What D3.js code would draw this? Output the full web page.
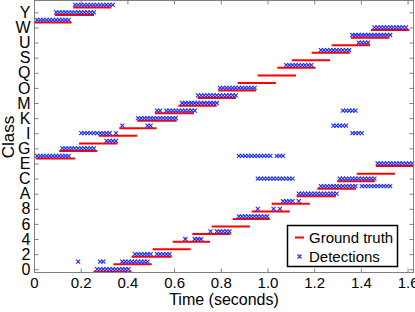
<!DOCTYPE html>
<html><head><meta charset="utf-8">
<script src="https://cdn.jsdelivr.net/npm/d3@7"></script>
<style>
html,body{margin:0;padding:0;background:#fff;}
svg{display:block;font-family:"Liberation Sans",Arial,sans-serif;}
</style></head>
<body>
<svg id="chart" width="415" height="312"></svg>
<script>
// ---- data ----
const classes = "0123456789ABCDEFGHIJKLMNOPQRSTUVWXYZ".split("");
const yTickLabels = ["0","2","4","6","8","A","C","E","G","I","K","M","O","Q","S","U","W","Y"];
const xTickValues = [0,0.2,0.4,0.6,0.8,1.0,1.2,1.4,1.6];
const xTickLabels = ["0","0.2","0.4","0.6","0.8","1.0","1.2","1.4","1.6"];
// ground truth intervals: [class, start (s), end (s)]
const groundTruth = [
  ["X",0.001,0.161],["F",0.009,0.176],["Y",0.090,0.257],["G",0.108,0.271],
  ["Z",0.168,0.330],["H",0.193,0.357],["0",0.254,0.418],["I",0.278,0.442],
  ["1",0.340,0.504],["J",0.365,0.525],["2",0.418,0.590],["K",0.442,0.611],
  ["3",0.508,0.671],["L",0.518,0.685],["4",0.594,0.754],["M",0.618,0.782],
  ["5",0.678,0.842],["N",0.701,0.865],["6",0.761,0.925],["O",0.789,0.951],
  ["7",0.851,1.010],["P",0.872,1.036],["8",0.932,1.096],["Q",0.958,1.122],
  ["9",1.018,1.182],["R",1.042,1.206],["S",1.104,1.268],["A",1.125,1.293],
  ["T",1.189,1.353],["B",1.213,1.379],["U",1.275,1.439],["C",1.299,1.460],
  ["V",1.358,1.522],["D",1.382,1.546],["W",1.443,1.607],["E",1.465,1.627]
];
// detections: [class, first frame, last frame]
const frameSeconds = 0.0135;
const detections = [
  ["0",20,30],
  ["1",14,14],["1",21,22],["1",28,36],
  ["2",32,37],["2",39,43],
  ["4",48,48],["4",51,53],
  ["5",56,56],["5",58,62],
  ["7",65,66],["7",67,74],
  ["8",71,71],["8",76,76],["8",78,78],
  ["9",79,82],["9",84,84],
  ["A",84,96],
  ["B",91,102],["B",104,113],
  ["C",71,82],["C",97,108],
  ["E",109,120],
  ["F",1,11],["F",65,75],["F",77,79],
  ["G",9,19],
  ["H",23,26],
  ["I",15,23],["I",24,24],["I",26,26],["I",101,104],
  ["J",28,28],["J",36,37],["J",95,99],
  ["K",33,45],
  ["L",39,40],["L",42,51],["L",98,102],
  ["M",47,58],
  ["N",52,64],
  ["O",59,70],
  ["R",80,88],
  ["T",91,100],
  ["U",103,106],
  ["V",101,113],
  ["W",108,118],
  ["X",1,11],
  ["Y",7,19],
  ["Z",13,25]
];
const legendLabels = ["Ground truth","Detections"];

// ---- layout ----
const mLeft = 34, mRight = 414, mTop = 1, mBottom = 273;
const svg = d3.select("#chart");
const idx = c => classes.indexOf(c);
const x = d3.scaleLinear().domain([0, 1.6275]).range([mLeft, mRight]);
const y = d3.scaleLinear().domain([-0.5, classes.length - 0.5]).range([mBottom, mTop]);
const gtOffset = 0.35;
const axisColor = "#808080";

// ground truth lines
svg.append("g").selectAll("line").data(groundTruth).join("line")
  .attr("x1", d => x(d[1])).attr("x2", d => x(d[2]))
  .attr("y1", d => y(idx(d[0]) - gtOffset)).attr("y2", d => y(idx(d[0]) - gtOffset))
  .attr("stroke", "#ff0000").attr("stroke-width", 2);

// detection markers
const pts = [];
detections.forEach(([c, f0, f1]) => { for (let f = f0; f <= f1; f++) pts.push([c, f * frameSeconds]); });
const ms = 2;
const xMark = (px, py) => `M${px-ms},${py-ms}L${px+ms},${py+ms}M${px-ms},${py+ms}L${px+ms},${py-ms}`;
svg.append("g").selectAll("path").data(pts).join("path")
  .attr("d", d => xMark(x(d[1]), y(idx(d[0]))))
  .attr("stroke", "#1a2cff").attr("stroke-width", 1.1).attr("fill", "none");

// axes box
svg.append("rect").attr("x", mLeft + 0.5).attr("y", mTop - 0.5).attr("width", mRight - mLeft - 1).attr("height", mBottom - mTop)
  .attr("fill", "none").attr("stroke", axisColor).attr("stroke-width", 1);

// x axis (bottom, ticks inward) + top ticks
const xAxis = d3.axisBottom(x).tickValues(xTickValues).tickSize(-4).tickPadding(5)
  .tickFormat((d, i) => xTickLabels[i]);
const gx = svg.append("g").attr("transform", `translate(0,${mBottom - 0.5})`).call(xAxis);
gx.select(".domain").remove();
gx.selectAll(".tick line").attr("stroke", axisColor);
gx.selectAll(".tick text").attr("fill", "#000").style("font-size", "15px");
const gxt = svg.append("g").attr("transform", `translate(0,${mTop - 0.5})`)
  .call(d3.axisTop(x).tickValues(xTickValues).tickSize(-4).tickFormat(""));
gxt.select(".domain").remove();
gxt.selectAll(".tick line").attr("stroke", axisColor);

// y axis
const yTickVals = yTickLabels.map(idx);
const yAxis = d3.axisLeft(y).tickValues(yTickVals).tickSize(-4).tickPadding(4)
  .tickFormat(d => classes[d]);
const gy = svg.append("g").attr("transform", `translate(${mLeft + 0.5},0)`).call(yAxis);
gy.select(".domain").remove();
gy.selectAll(".tick line").attr("stroke", axisColor);
gy.selectAll(".tick text").attr("fill", "#000").style("font-size", "16px");
const gyr = svg.append("g").attr("transform", `translate(${mRight - 0.5},0)`)
  .call(d3.axisRight(y).tickValues(yTickVals).tickSize(-4).tickFormat(""));
gyr.select(".domain").remove();
gyr.selectAll(".tick line").attr("stroke", axisColor);

// axis titles
svg.append("text").attr("x", (mLeft + mRight) / 2).attr("y", 305).attr("text-anchor", "middle")
  .style("font-size", "16px").text("Time (seconds)");
svg.append("text").attr("transform", `translate(14,${(mTop + mBottom) / 2}) rotate(-90)`)
  .attr("text-anchor", "middle").style("font-size", "17px").text("Class");

// legend
const lg = svg.append("g");
lg.append("rect").attr("x", 287.5).attr("y", 225.5).attr("width", 110).attr("height", 41)
  .attr("fill", "#fff").attr("stroke", "#000").attr("stroke-width", 1.5);
lg.append("line").attr("x1", 295).attr("x2", 304).attr("y1", 237.5).attr("y2", 237.5)
  .attr("stroke", "#ff0000").attr("stroke-width", 2);
lg.append("path").attr("d", xMark(299.5, 256.5))
  .attr("stroke", "#1a2cff").attr("stroke-width", 1.1).attr("fill", "none");
lg.selectAll("text.lbl").data(legendLabels).join("text").attr("class", "lbl")
  .attr("x", 309).attr("y", (d, i) => 237.5 + i * 19).attr("dy", "0.35em")
  .style("font-size", "15px").text(d => d);
</script>
</body></html>
